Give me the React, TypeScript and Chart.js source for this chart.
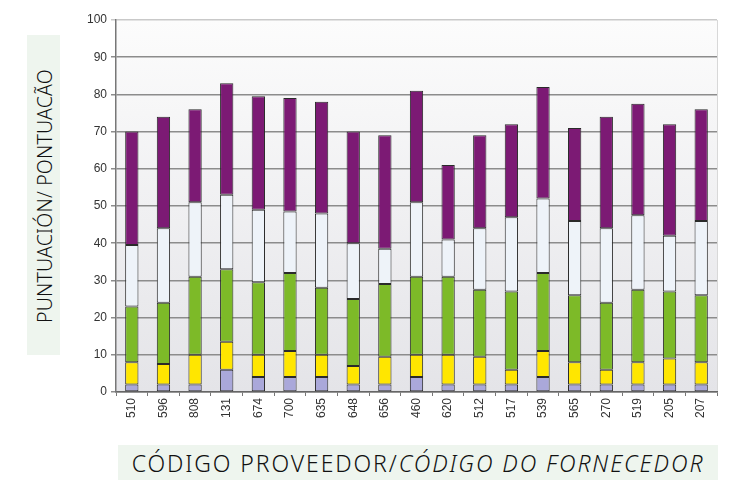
import React, { useEffect, useRef } from "react";
import { Chart, registerables } from "chart.js";

Chart.register(...registerables);

const categories = ["510", "596", "808", "131", "674", "700", "635", "648", "656", "460", "620", "512", "517", "539", "565", "270", "519", "205", "207"];
const lavender = [2, 2, 2, 6, 4, 4, 4, 2, 2, 4, 2, 2, 2, 4, 2, 2, 2, 2, 2];
const yellow = [6, 5.5, 8, 7.5, 6, 7, 6, 5, 7.5, 6, 8, 7.5, 4, 7, 6, 4, 6, 7, 6];
const green = [15, 16.5, 21, 19.5, 19.5, 21, 18, 18, 19.5, 21, 21, 18, 21, 21, 18, 18, 19.5, 18, 18];
const white = [16.5, 20, 20, 20, 19.5, 16.5, 20, 15, 9.5, 20, 10, 16.5, 20, 20, 20, 20, 20, 15, 20];
const purple = [30.5, 30, 25, 30, 30.5, 30.5, 30, 30, 30.5, 30, 20, 25, 25, 30, 25, 30, 30, 30, 30];
const yTicks = [0, 10, 20, 30, 40, 50, 60, 70, 80, 90, 100];

const yTitle = "PUNTUACIÓN/ PONTUACÃO";
const xTitleA = "CÓDIGO PROVEEDOR/";
const xTitleB = "CÓDIGO DO FORNECEDOR";

const bgPlugin = {
  id: "plotBg",
  beforeDraw(chart: any) {
    const { ctx, chartArea } = chart;
    if (!chartArea) return;
    const g = ctx.createLinearGradient(0, chartArea.top, 0, chartArea.bottom);
    g.addColorStop(0, "#fcfcfc");
    g.addColorStop(1, "#e4e4e8");
    ctx.save();
    ctx.fillStyle = g;
    ctx.fillRect(chartArea.left, chartArea.top, chartArea.right - chartArea.left, chartArea.bottom - chartArea.top);
    ctx.strokeStyle = "#d8d8d8";
    ctx.lineWidth = 1;
    ctx.beginPath();
    ctx.moveTo(chartArea.right + 0.5, chartArea.top);
    ctx.lineTo(chartArea.right + 0.5, chartArea.bottom);
    ctx.stroke();
    ctx.restore();
  },
};

export default function App() {
  const ref = useRef<HTMLCanvasElement | null>(null);

  useEffect(() => {
    document.body.style.margin = "0";
    const canvas = ref.current;
    if (!canvas) return;
    const mk = (label: string, data: number[], color: string) => ({
      label,
      data,
      backgroundColor: color,
      borderColor: "#2a2a2a",
      borderWidth: 1,
      borderSkipped: false,
      categoryPercentage: 1,
      barPercentage: 0.42,
    });
    const chart = new Chart(canvas, {
      type: "bar",
      data: {
        labels: categories,
        datasets: [
          mk("A", lavender, "#aaa8da"),
          mk("B", yellow, "#ffe600"),
          mk("C", green, "#7dba28"),
          mk("D", white, "#eef3f9"),
          mk("E", purple, "#7c1a74"),
        ],
      },
      options: {
        animation: false,
        responsive: false,
        maintainAspectRatio: false,
        layout: { padding: { left: 76, right: 13, top: 20, bottom: 8 } },
        plugins: { legend: { display: false }, tooltip: { enabled: false } },
        scales: {
          x: {
            stacked: true,
            offset: true,
            grid: { display: true, drawOnChartArea: false, offset: true, color: "#777", tickLength: 4 },
            border: { color: "#666", width: 1.5 },
            ticks: {
              minRotation: 90,
              maxRotation: 90,
              color: "#333",
              font: { family: "Liberation Sans", size: 12 },
              padding: 2,
            },
            afterFit: (s: any) => {
              s.height = 40;
            },
          },
          y: {
            stacked: true,
            min: 0,
            max: 100,
            afterBuildTicks: (s: any) => {
              s.ticks = yTicks.map((v) => ({ value: v }));
            },
            grid: {
              color: (c: any) => (c.tick && c.tick.value === 100 ? "#c9c9c9" : "#8c8c8c"),
              lineWidth: 1.5,
              tickLength: 5,
            },
            border: { color: "#777", width: 1.5 },
            ticks: {
              color: "#333",
              font: { family: "Liberation Sans", size: 12 },
              padding: 4,
            },
            afterFit: (s: any) => {
              s.width = 40;
            },
          },
        },
      },
      plugins: [bgPlugin],
    });
    return () => chart.destroy();
  }, []);

  return (
    <div style={{ position: "relative", width: 730, height: 485, background: "#fff", overflow: "hidden" }}>
      <canvas ref={ref} width={730} height={440} style={{ position: "absolute", left: 0, top: 0, width: 730, height: 440 }} />
      <div
        style={{
          position: "absolute",
          left: 27,
          top: 35,
          width: 33,
          height: 320,
          background: "#eef5ee",
        }}
      />
      <div
        style={{
          position: "absolute",
          left: 44,
          top: 196,
          transform: "translate(-50%, -50%) rotate(-90deg)",
          whiteSpace: "nowrap",
          fontFamily: "'Noto Sans', sans-serif",
          fontWeight: 300,
          fontSize: 19.5,
          letterSpacing: 0.2,
          color: "#111",
        }}
      >
        {yTitle}
      </div>
      <div
        style={{
          position: "absolute",
          left: 118,
          top: 445,
          width: 600,
          height: 35,
          background: "#eef5ee",
          display: "flex",
          alignItems: "center",
          justifyContent: "center",
          whiteSpace: "nowrap",
          fontFamily: "'Noto Sans', sans-serif",
          fontWeight: 300,
          fontSize: 23,
          letterSpacing: 1.9,
          color: "#111",
        }}
      >
        <span>{xTitleA}</span>
        <span style={{ fontStyle: "italic" }}>{xTitleB}</span>
      </div>
    </div>
  );
}
